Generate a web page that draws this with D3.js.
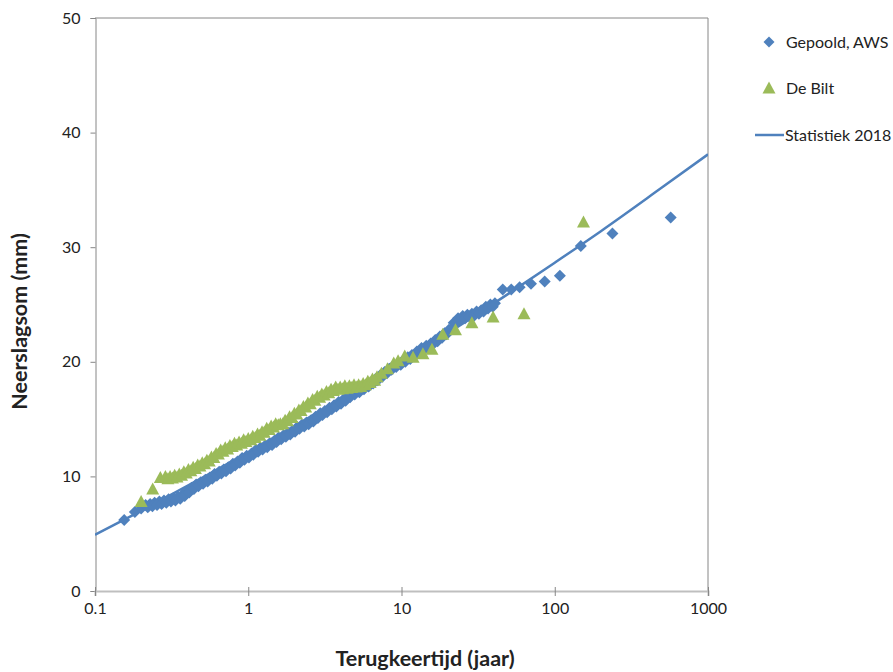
<!DOCTYPE html>
<html>
<head>
<meta charset="utf-8">
<script src="https://cdn.jsdelivr.net/npm/d3@7"></script>
<style>
  html, body { margin: 0; padding: 0; background: #fff; }
  svg { display: block; }
  text { font-family: Lato, "Open Sans", "Liberation Sans", sans-serif; fill: #222; }
</style>
</head>
<body>
<svg id="chart" width="893" height="672"></svg>
<script>
// ---- data ----
const xTicks = [0.1, 1, 10, 100, 1000];
const xTickLabels = ["0.1", "1", "10", "100", "1000"];
const yTicks = [0, 10, 20, 30, 40, 50];

const seriesNames = ["Gepoold, AWS", "De Bilt", "Statistiek 2018"];

// Gepoold, AWS: return period (years) and precipitation sum (mm)
const aT = [0.155, 0.182, 0.200, 0.214, 0.229, 0.245, 0.263, 0.282, 0.302, 0.324, 0.347, 0.372, 0.398,
  0.427, 0.457, 0.490, 0.525, 0.562, 0.603, 0.646, 0.692, 0.741, 0.794, 0.851, 0.912, 0.977,
  1.05, 1.12, 1.20, 1.29, 1.38, 1.48, 1.58, 1.70, 1.82, 1.95, 2.09, 2.24, 2.40, 2.57, 2.75, 2.95,
  3.16, 3.39, 3.63, 3.89, 4.17, 4.47, 4.79, 5.13, 5.50, 5.89, 6.31, 6.76, 7.24, 7.76, 8.32, 8.91,
  9.55, 10.2, 11.0, 11.7, 12.6, 13.5, 14.5, 15.5, 16.6, 17.8, 19.1, 20.4, 21.9, 23.4, 25.1, 26.9,
  28.8, 30.9, 33.1, 35.5, 38.0, 40.7, 45.8, 52.0, 59.0, 70.0, 86.0, 108, 148, 238, 571];
const aV = [6.2, 6.9, 7.2, 7.5, 7.6, 7.7, 7.8, 7.9, 8.0, 8.1, 8.2, 8.4, 8.7,
  9.0, 9.3, 9.5, 9.7, 9.9, 10.2, 10.4, 10.6, 10.8, 11.1, 11.3, 11.6, 11.8,
  12.0, 12.3, 12.5, 12.7, 12.9, 13.1, 13.4, 13.6, 13.8, 14.0, 14.3, 14.5, 14.7, 14.9, 15.2, 15.5,
  15.7, 16.0, 16.2, 16.5, 16.7, 17.0, 17.3, 17.5, 17.7, 18.0, 18.2, 18.5, 18.8, 19.1, 19.4, 19.7,
  19.9, 20.1, 20.4, 20.6, 20.9, 21.2, 21.4, 21.6, 21.9, 22.2, 22.5, 22.8, 23.4, 23.8, 24.0, 24.1,
  24.2, 24.4, 24.5, 24.8, 25.0, 25.1, 26.3, 26.3, 26.5, 26.8, 27.0, 27.5, 30.1, 31.2, 32.6];
// Gepoold, AWS: remaining (interleaved) points of the dense band
const aT2 = [0.221, 0.237, 0.254, 0.272, 0.292, 0.313, 0.335, 0.360, 0.385, 0.412, 0.442, 0.473,
  0.507, 0.543, 0.582, 0.624, 0.668, 0.716, 0.767, 0.822, 0.881, 0.944, 1.01, 1.08, 1.16, 1.24,
  1.33, 1.43, 1.53, 1.64, 1.76, 1.88, 2.02, 2.16, 2.32, 2.48, 2.66, 2.85, 3.05, 3.27, 3.51, 3.76,
  4.03, 4.32, 4.62, 4.95, 5.31, 5.69, 6.10, 6.53, 7.00, 7.50, 8.04, 8.61, 9.23, 9.89, 10.6, 11.4,
  12.2, 13.0, 14.0, 15.0, 16.0, 17.2, 18.4, 19.7, 21.1, 22.6, 24.2, 26.0, 27.9, 29.9, 32.0, 34.3,
  36.7, 39.4];
const aV2 = [7.3, 7.4, 7.5, 7.6, 7.7, 7.8, 7.9, 8.05, 8.3, 8.6, 8.9, 9.15,
  9.35, 9.55, 9.8, 10.05, 10.25, 10.45, 10.7, 10.95, 11.2, 11.45, 11.65, 11.9, 12.15, 12.35,
  12.55, 12.75, 13.0, 13.25, 13.45, 13.65, 13.9, 14.15, 14.35, 14.55, 14.8, 15.1, 15.35, 15.6, 15.85, 16.1,
  16.35, 16.6, 16.9, 17.15, 17.35, 17.6, 17.85, 18.1, 18.4, 18.7, 19.0, 19.3, 19.55, 19.75, 20.0, 20.25,
  20.5, 20.8, 21.05, 21.25, 21.5, 21.8, 22.1, 22.4, 22.85, 23.35, 23.65, 23.8, 23.9, 24.05, 24.2, 24.4,
  24.65, 24.8];

// De Bilt
const bT = [0.200, 0.238, 0.267, 0.288, 0.309, 0.331, 0.355, 0.380, 0.407, 0.437, 0.468, 0.501,
  0.537, 0.575, 0.617, 0.661, 0.708, 0.759, 0.813, 0.871, 0.933, 1.00, 1.07, 1.15, 1.23, 1.32,
  1.41, 1.51, 1.62, 1.74, 1.86, 2.00, 2.14, 2.29, 2.45, 2.63, 2.82, 3.02, 3.24, 3.47, 3.72, 3.98,
  4.27, 4.57, 4.90, 5.25, 5.62, 6.03, 6.46, 6.92, 7.40, 8.10, 8.90, 9.50, 10.5, 11.9, 13.8, 15.8,
  18.6, 22.5, 28.8, 39.6, 63.0, 154];
const bV = [7.8, 8.9, 9.9, 10.0, 10.0, 10.1, 10.2, 10.4, 10.6, 10.8, 11.0, 11.2,
  11.4, 11.7, 12.0, 12.3, 12.5, 12.7, 12.9, 13.0, 13.2, 13.3, 13.5, 13.7, 13.9, 14.2,
  14.4, 14.6, 14.6, 14.9, 15.2, 15.5, 15.8, 16.1, 16.4, 16.7, 17.0, 17.2, 17.4, 17.6, 17.8, 17.8,
  17.9, 17.9, 18.0, 18.0, 18.1, 18.3, 18.5, 18.7, 19.0, 19.4, 19.9, 20.1, 20.5, 20.4, 20.7, 21.1,
  22.4, 22.8, 23.4, 23.9, 24.2, 32.2];
// De Bilt: remaining (interleaved) points of the dense band
const bT2 = [0.299, 0.320, 0.343, 0.367, 0.394, 0.422, 0.452, 0.484, 0.519, 0.556, 0.596, 0.638,
  0.684, 0.733, 0.786, 0.841, 0.902, 0.966, 1.04, 1.11, 1.19, 1.27, 1.37, 1.46, 1.57, 1.68,
  1.80, 1.93, 2.07, 2.21, 2.37, 2.54, 2.72, 2.92, 3.13, 3.35, 3.59, 3.85, 4.12, 4.42, 4.73, 5.07,
  5.43, 5.82, 6.24, 6.68];
const bV2 = [9.8, 9.85, 9.95, 10.1, 10.3, 10.5, 10.7, 10.9, 11.1, 11.35, 11.65, 11.95,
  12.2, 12.4, 12.6, 12.75, 12.9, 13.05, 13.2, 13.4, 13.6, 13.85, 14.1, 14.3, 14.5, 14.6,
  14.85, 15.15, 15.45, 15.75, 16.05, 16.35, 16.65, 16.9, 17.1, 17.3, 17.5, 17.6, 17.65, 17.7, 17.75, 17.8,
  17.85, 18.0, 18.2, 18.4];

// Statistiek 2018 curve
const sT = [0.1, 0.2, 0.5, 1, 2, 5, 10, 20, 50, 100, 200, 500, 1000];
const sV = [4.9, 7.0, 9.87, 12.1, 14.4, 17.54, 20.0, 22.5, 25.95, 28.65, 31.4, 35.2, 38.1];

// ---- drawing ----
const colors = { blue: "#4F81BD", green: "#9BBB59" };
const svg = d3.select("#chart");
const plot = { left: 95, right: 708, top: 18, bottom: 591 };

const x = d3.scaleLog().domain([0.1, 1000]).range([plot.left, plot.right]);
const y = d3.scaleLinear().domain([0, 50]).range([plot.bottom, plot.top]);

// plot-area border (top/right)
svg.append("path")
  .attr("d", `M${plot.left},${plot.top}H${plot.right}V${plot.bottom}`)
  .attr("fill", "none").attr("stroke", "#868686").attr("stroke-width", 1);

// Y axis
const yAxis = svg.append("g").attr("transform", `translate(${plot.left + 0.5},0)`)
  .call(d3.axisLeft(y).tickValues(yTicks).tickSize(5).tickPadding(10).tickFormat(d3.format("d")));
yAxis.select(".domain").attr("stroke", "#868686");
yAxis.selectAll(".tick line").attr("stroke", "#868686");
yAxis.selectAll(".tick text").attr("font-size", 16).attr("fill", "#222")
  .attr("font-family", "Lato, 'Open Sans', sans-serif");

// X axis
const xAxis = svg.append("g").attr("transform", `translate(0,${plot.bottom})`)
  .call(d3.axisBottom(x).tickValues(xTicks).tickSize(5).tickPadding(8)
    .tickFormat((d, i) => xTickLabels[i]));
xAxis.select(".domain").attr("stroke", "#BFBFBF").attr("stroke-width", 2);
xAxis.selectAll(".tick line").attr("stroke", "#868686").attr("y1", -4).attr("y2", 5);
xAxis.selectAll(".tick text").attr("font-size", 16).attr("fill", "#222")
  .attr("font-family", "Lato, 'Open Sans', sans-serif")
  .attr("y", 23).attr("dy", "0");

// Axis titles
svg.append("text")
  .attr("transform", `translate(27,${(plot.top + plot.bottom) / 2 + 17}) rotate(-90)`)
  .attr("text-anchor", "middle").attr("font-weight", "bold").attr("font-size", 21.5)
  .text("Neerslagsom (mm)");
svg.append("text")
  .attr("x", 425).attr("y", 666)
  .attr("text-anchor", "middle").attr("font-weight", "bold").attr("font-size", 21.5)
  .text("Terugkeertijd (jaar)");

// markers
const diamond = "M0,-6L6,0L0,6L-6,0Z";
const triangle = "M0,-6.5L6.5,5.5L-6.5,5.5Z";

svg.append("clipPath").attr("id", "clip").append("rect")
  .attr("x", plot.left).attr("y", plot.top)
  .attr("width", plot.right - plot.left).attr("height", plot.bottom - plot.top);

// line
const statData = sT.map((t, i) => ({ t, v: sV[i] }));
svg.append("path")
  .datum(statData)
  .attr("clip-path", "url(#clip)")
  .attr("fill", "none").attr("stroke", colors.blue).attr("stroke-width", 2.5)
  .attr("d", d3.line().x(d => x(d.t)).y(d => y(d.v)).curve(d3.curveMonotoneX));

// blue diamonds
const aData = aT.map((t, i) => ({ t, v: aV[i] }))
  .concat(aT2.map((t, i) => ({ t, v: aV2[i] })));
svg.append("g").selectAll("path").data(aData).join("path")
  .attr("d", diamond)
  .attr("transform", d => `translate(${x(d.t)},${y(d.v)})`)
  .attr("fill", colors.blue);

// green triangles
const bData = bT.map((t, i) => ({ t, v: bV[i] }))
  .concat(bT2.map((t, i) => ({ t, v: bV2[i] })));
svg.append("g").selectAll("path").data(bData).join("path")
  .attr("d", triangle)
  .attr("transform", d => `translate(${x(d.t)},${y(d.v)})`)
  .attr("fill", colors.green);

// legend
const leg = svg.append("g").attr("font-size", 16);
leg.append("path").attr("d", "M0,-5.5L5.5,0L0,5.5L-5.5,0Z").attr("transform", "translate(769,42)").attr("fill", colors.blue);
leg.append("text").attr("x", 786).attr("y", 47.5).text(seriesNames[0]);
leg.append("path").attr("d", triangle).attr("transform", "translate(769,88)").attr("fill", colors.green);
leg.append("text").attr("x", 786).attr("y", 93.5).text(seriesNames[1]);
leg.append("line").attr("x1", 755).attr("x2", 784).attr("y1", 135).attr("y2", 135)
  .attr("stroke", colors.blue).attr("stroke-width", 2.5);
leg.append("text").attr("x", 785).attr("y", 140.5).text(seriesNames[2]);
</script>
</body>
</html>
